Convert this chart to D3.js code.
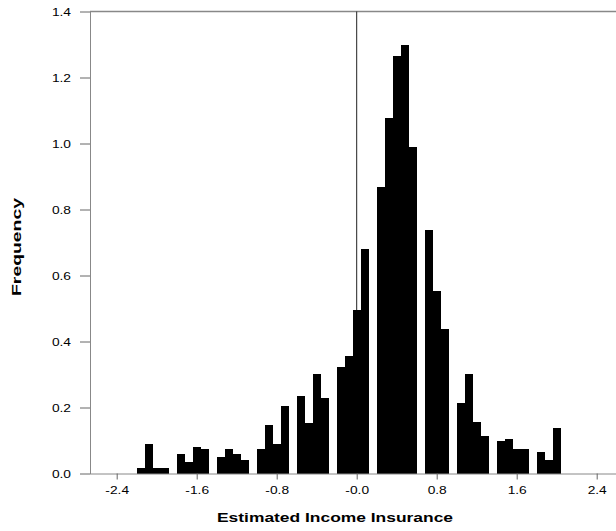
<!DOCTYPE html>
<html>
<head>
    <meta charset="utf-8">
    <title>Estimated Income Insurance</title>
    <script src="https://d3js.org/d3.v7.min.js"></script>
    <style>
        body {
            margin: 0;
            background-color: white;
        }
        svg text {
            font-family: "Liberation Sans", Arial, sans-serif;
            fill: black;
        }
    </style>
</head>
<body>
<div id="chart"></div>
<script>
    // left edge of each histogram bin (width 0.08) and its frequency
    const binStarts = [
        -2.20, -2.12, -2.04, -1.96, -1.88, -1.80, -1.72, -1.64, -1.56, -1.48,
        -1.40, -1.32, -1.24, -1.16, -1.08, -1.00, -0.92, -0.84, -0.76, -0.68,
        -0.60, -0.52, -0.44, -0.36, -0.28, -0.20, -0.12, -0.04, 0.04, 0.12,
        0.20, 0.28, 0.36, 0.44, 0.52, 0.60, 0.68, 0.76, 0.84, 0.92,
        1.00, 1.08, 1.16, 1.24, 1.32, 1.40, 1.48, 1.56, 1.64, 1.72,
        1.80, 1.88, 1.96
    ];
    const frequency = [
        0.017, 0.089, 0.017, 0.017, 0, 0.058, 0.034, 0.081, 0.073, 0,
        0.049, 0.073, 0.058, 0.041, 0, 0.074, 0.147, 0.089, 0.204, 0,
        0.236, 0.154, 0.301, 0.228, 0, 0.324, 0.357, 0.495, 0.681, 0,
        0.867, 1.078, 1.265, 1.298, 0.989, 0, 0.738, 0.552, 0.439, 0,
        0.213, 0.301, 0.155, 0.114, 0, 0.098, 0.105, 0.074, 0.074, 0,
        0.066, 0.042, 0.139
    ];
    const binWidth = 0.08;
    const xTicks = [-2.4, -1.6, -0.8, 0, 0.8, 1.6, 2.4];
    const xTickLabels = ["-2.4", "-1.6", "-0.8", "-0.0", "0.8", "1.6", "2.4"];
    const yTicks = [0, 0.2, 0.4, 0.6, 0.8, 1.0, 1.2, 1.4];
    const yTickLabels = ["0.0", "0.2", "0.4", "0.6", "0.8", "1.0", "1.2", "1.4"];

    const width = 616;
    const height = 531;
    const plot = { left: 90, top: 11.5, bottom: 473.5 };

    const svg = d3.select("#chart")
        .append("svg")
        .attr("width", width)
        .attr("height", height);

    // scales (right end of the frame falls outside the picture)
    const x = d3.scaleLinear()
        .domain([-2.667, 2.667])
        .range([plot.left, plot.left + 533.4]);

    const y = d3.scaleLinear()
        .domain([0, 1.4])
        .range([plot.bottom, plot.top]);

    const data = binStarts.map((b, i) => ({ start: b, value: frequency[i] }));

    // top border of the frame
    svg.append("line")
        .attr("x1", plot.left)
        .attr("x2", width)
        .attr("y1", plot.top)
        .attr("y2", plot.top)
        .attr("stroke", "#888")
        .attr("stroke-width", 1.5);

    // reference line at zero
    svg.append("line")
        .attr("x1", x(0))
        .attr("x2", x(0))
        .attr("y1", plot.top)
        .attr("y2", plot.bottom)
        .attr("stroke", "#222")
        .attr("stroke-width", 1);

    // bars
    svg.selectAll(".bar")
        .data(data.filter(d => d.value > 0))
        .enter()
        .append("rect")
        .attr("class", "bar")
        .attr("x", d => x(d.start))
        .attr("width", d => x(d.start + binWidth) - x(d.start))
        .attr("y", d => y(d.value))
        .attr("height", d => y(0) - y(d.value))
        .attr("fill", "black")
        .attr("shape-rendering", "crispEdges");

    // x axis
    const xAxis = svg.append("g")
        .attr("transform", `translate(0,${plot.bottom})`)
        .call(d3.axisBottom(x)
            .tickValues(xTicks)
            .tickSize(6)
            .tickSizeOuter(0)
            .tickPadding(7)
            .tickFormat((d, i) => xTickLabels[i]));

    xAxis.select(".domain")
        .attr("d", `M${plot.left},0.5H${width}`)
        .attr("stroke", "#888");

    // y axis
    const yAxis = svg.append("g")
        .attr("transform", `translate(${plot.left},0)`)
        .call(d3.axisLeft(y)
            .tickValues(yTicks)
            .tickSize(10)
            .tickSizeOuter(0)
            .tickPadding(9)
            .tickFormat((d, i) => yTickLabels[i]));

    yAxis.select(".domain").attr("stroke", "#888");

    svg.selectAll(".tick line").attr("stroke", "#666");
    svg.selectAll(".tick text")
        .style("font-size", "11px")
        .style("font-family", "'Liberation Sans', Arial, sans-serif");

    // the original lettering is a bit wider than Arial, stretch it
    svg.selectAll(".tick text").each(function () {
        const w = this.getComputedTextLength();
        d3.select(this)
            .attr("textLength", w * 1.25)
            .attr("lengthAdjust", "spacingAndGlyphs");
    });

    // axis titles
    svg.append("text")
        .attr("x", 335)
        .attr("y", 522)
        .attr("text-anchor", "middle")
        .attr("textLength", 236)
        .attr("lengthAdjust", "spacingAndGlyphs")
        .style("font-size", "13px")
        .style("font-weight", "bold")
        .text("Estimated Income Insurance");

    svg.append("text")
        .attr("transform", "translate(21,247) rotate(-90)")
        .attr("text-anchor", "middle")
        .attr("textLength", 98)
        .attr("lengthAdjust", "spacingAndGlyphs")
        .style("font-size", "13px")
        .style("font-weight", "bold")
        .text("Frequency");
</script>
</body>
</html>
